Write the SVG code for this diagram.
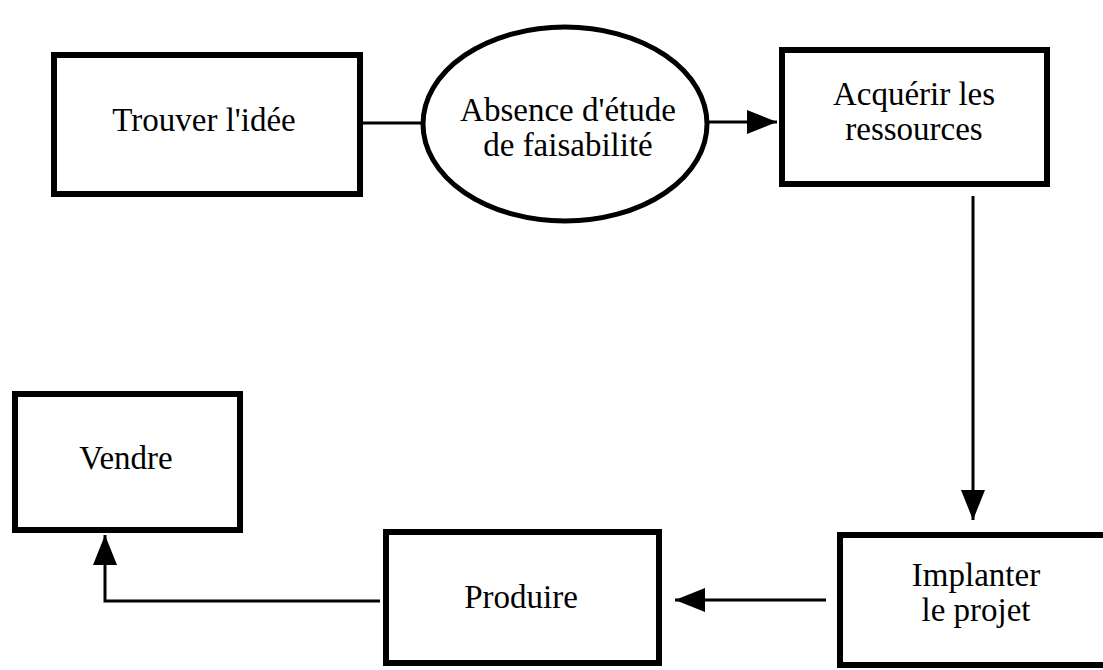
<svg xmlns="http://www.w3.org/2000/svg" width="1103" height="670" viewBox="0 0 1103 670">
<defs>
<style>
.box{fill:#fff;stroke:#000;stroke-width:6}
.ell{fill:#fff;stroke:#000;stroke-width:5}
.lbl{font-family:"Liberation Serif","Times New Roman",serif;font-size:33px;fill:#000;text-anchor:middle}
.con{fill:none;stroke:#000;stroke-width:3}
</style>
<marker id="ahb" viewBox="0 0 10 10" refX="10" refY="5" markerWidth="30" markerHeight="24" markerUnits="userSpaceOnUse" orient="auto" preserveAspectRatio="none">
<path d="M0,0 L10,5 L0,10 Z" fill="#000"/>
</marker>
</defs>
<rect width="1103" height="670" fill="#fff"/>
<g id="connectors">
<line class="con" x1="363" y1="123" x2="424" y2="123"/>
<line class="con" x1="707" y1="122" x2="777" y2="122" marker-end="url(#ahb)"/>
<line class="con" x1="973" y1="196" x2="973" y2="520" marker-end="url(#ahb)"/>
<line class="con" x1="826" y1="600" x2="675" y2="600" marker-end="url(#ahb)"/>
<polyline class="con" points="380,601 105,601 105,535" marker-end="url(#ahb)"/>
</g>
<g id="trouver">
<rect class="box" x="54" y="55" width="306" height="139"/>
<text class="lbl" x="204" y="131">Trouver l'idée</text>
</g>
<g id="absence">
<ellipse class="ell" cx="565" cy="124" rx="142" ry="97"/>
<text class="lbl" x="568" y="121">Absence d'étude</text>
<text class="lbl" x="568" y="156">de faisabilité</text>
</g>
<g id="acquerir">
<rect class="box" x="782" y="50" width="265" height="134"/>
<text class="lbl" x="914" y="105">Acquérir les</text>
<text class="lbl" x="914" y="140">ressources</text>
</g>
<g id="implanter">
<rect class="box" x="840" y="535" width="275" height="130"/>
<text class="lbl" x="976" y="586">Implanter</text>
<text class="lbl" x="976" y="621">le projet</text>
</g>
<g id="produire">
<rect class="box" x="386" y="532" width="273" height="131"/>
<text class="lbl" x="521" y="608">Produire</text>
</g>
<g id="vendre">
<rect class="box" x="15" y="394" width="225" height="136"/>
<text class="lbl" x="126" y="469">Vendre</text>
</g>
</svg>
